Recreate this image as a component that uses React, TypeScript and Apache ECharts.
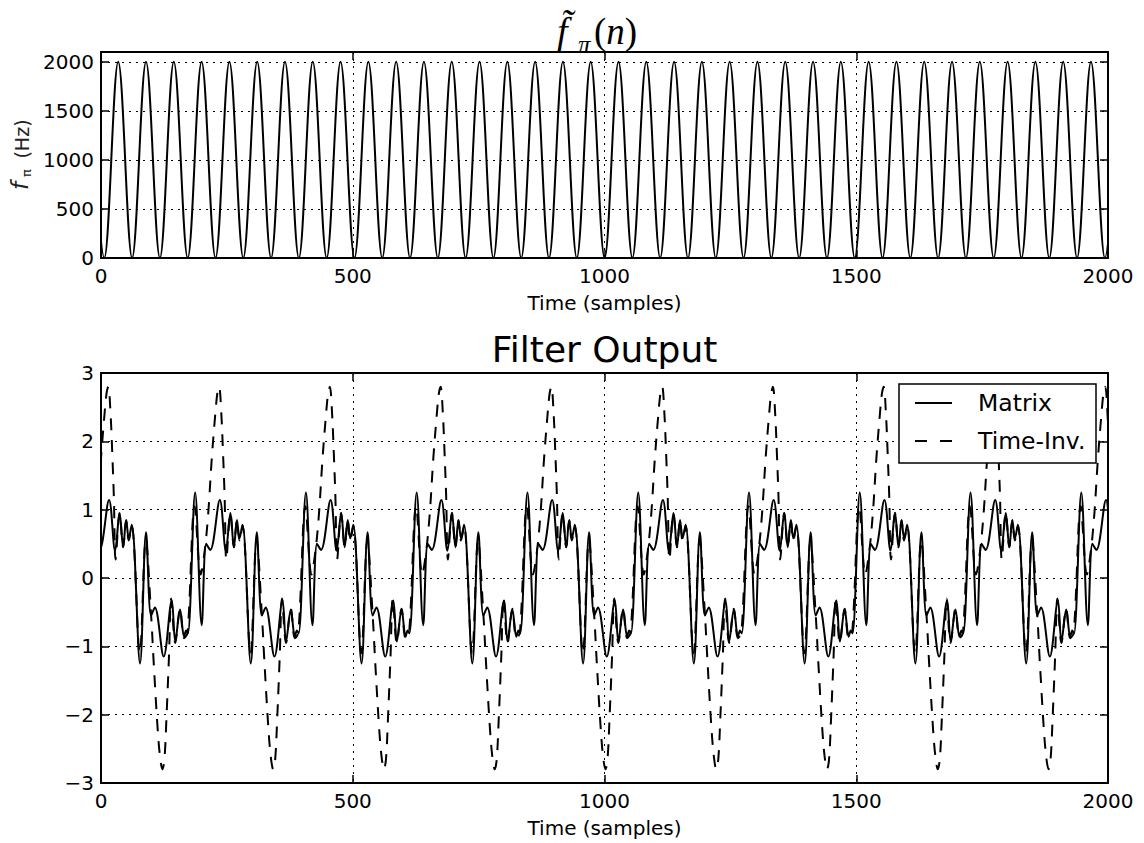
import React, { useEffect, useRef } from "react";
import * as echarts from "echarts";

// ---------- data ----------
const xTickValues = [0, 500, 1000, 1500, 2000];
const freqTickValues = [0, 500, 1000, 1500, 2000];
const outTickValues = [-3, -2, -1, 0, 1, 2, 3];

// top panel: sample positions of the maxima (2000 Hz) and minima (0 Hz)
const freqPeakN = [-21.0, 34.2, 89.4, 144.6, 199.8, 255.0, 310.2, 365.4, 420.6, 475.8, 531.0, 586.2, 641.4, 696.6, 751.8, 807.0, 862.2, 917.4, 972.6, 1027.8, 1083.0, 1138.2, 1193.4, 1248.6, 1303.8, 1359.0, 1414.2, 1469.4, 1524.6, 1579.8, 1635.0, 1690.2, 1745.4, 1800.6, 1855.8, 1911.0, 1966.2, 2021.4];
const freqTroughN = [6.6, 61.8, 117.0, 172.2, 227.4, 282.6, 337.8, 393.0, 448.2, 503.4, 558.6, 613.8, 669.0, 724.2, 779.4, 834.6, 889.8, 945.0, 1000.2, 1055.4, 1110.6, 1165.8, 1221.0, 1276.2, 1331.4, 1386.6, 1441.8, 1497.0, 1552.2, 1607.4, 1662.6, 1717.8, 1773.0, 1828.2, 1883.4, 1938.6, 1993.8];
const freqPeakHz = 2000;
const freqTroughHz = 0;

// bottom panel: the output repeats every 220 samples; one cycle
const cycleStartN = [-220, 0, 220, 440, 660, 880, 1100, 1320, 1540, 1760, 1980];
const matrixCycleN = [16, 28, 37, 44, 50, 55, 61, 77.5, 89.5, 99.5, 107, 124.5, 140.5, 147.5, 157, 165, 169, 172.5, 187, 200, 209, 217];
const matrixCycleV = [1.14, 0.4, 0.95, 0.45, 0.85, 0.58, 0.78, -1.25, 0.67, -0.55, -0.43, -1.15, -0.33, -0.93, -0.46, -0.86, -0.77, -0.81, 1.25, -0.69, 0.5, 0.41];
const timeInvCycleN = [0, 7, 11, 14.5, 19, 22.5, 25.5, 29, 37, 44, 50, 55, 61, 77, 89, 100, 104, 112, 117, 122, 126, 130, 135, 139.5, 147.5, 157, 165, 172, 186, 198, 206, 213];
const timeInvCycleV = [1.75, 2.4, 2.7, 2.8, 2.4, 1.8, 1.2, 0.27, 0.95, 0.45, 0.84, 0.55, 0.76, -1.1, 0.55, -0.6, -1.15, -2.15, -2.6, -2.8, -2.65, -2.05, -1.15, -0.3, -0.95, -0.45, -0.88, -0.8, 1.05, 0.05, 0.4, 0.95];

const seriesNames = ["Matrix", "Time-Inv."];

// ---------- build series data ----------
const freqData: number[][] = [
  ...freqPeakN.map((n) => [n, freqPeakHz]),
  ...freqTroughN.map((n) => [n, freqTroughHz]),
].sort((a, b) => a[0] - b[0]);

const tile = (ns: number[], vs: number[]) =>
  cycleStartN.flatMap((s) => ns.map((n, i) => [s + n, vs[i]]));

const matrixData = tile(matrixCycleN, matrixCycleV);
const timeInvData = tile(timeInvCycleN, timeInvCycleV);

const BLACK = "#000";
const SANS = "DejaVu Sans";
const SERIF = "Liberation Serif";

const tickFont = { fontFamily: SANS, fontSize: 20, color: BLACK };

const minus = (v: number) => (v < 0 ? "\u2212" + Math.abs(v) : String(v));

function frameAxisX(gridIndex: number, position: "bottom" | "top", main: boolean) {
  return {
    type: "value",
    gridIndex,
    position,
    min: xTickValues[0],
    max: xTickValues[xTickValues.length - 1],
    interval: xTickValues[1] - xTickValues[0],
    axisLine: { show: true, onZero: false, lineStyle: { color: BLACK, width: 2 } },
    axisTick: { show: true, inside: true, length: 8, lineStyle: { color: BLACK, width: 1.5 } },
    axisLabel: main
      ? { show: true, margin: 8, ...tickFont, formatter: (v: number) => String(v) }
      : { show: false },
    splitLine: main
      ? { show: true, lineStyle: { color: BLACK, width: 1, type: [2, 5] } }
      : { show: false },
    name: main ? "Time (samples)" : "",
    nameLocation: "middle",
    nameGap: 35,
    nameTextStyle: { fontFamily: SANS, fontSize: 20, color: BLACK },
  };
}

function frameAxisY(
  gridIndex: number,
  position: "left" | "right",
  main: boolean,
  ticks: number[],
  max: number
) {
  return {
    type: "value",
    gridIndex,
    position,
    min: ticks[0],
    max,
    interval: ticks[1] - ticks[0],
    axisLine: { show: true, onZero: false, lineStyle: { color: BLACK, width: 2 } },
    axisTick: { show: true, inside: true, length: 8, lineStyle: { color: BLACK, width: 1.5 } },
    axisLabel: main
      ? {
          show: true,
          margin: 7,
          ...tickFont,
          showMaxLabel: max === ticks[ticks.length - 1],
          formatter: (v: number) => (ticks.indexOf(v) >= 0 ? minus(v) : ""),
        }
      : { show: false },
    splitLine: main
      ? { show: true, lineStyle: { color: BLACK, width: 1, type: [2, 5] } }
      : { show: false },
  };
}

function rotatedText(text: string, x: number, y: number, size: number, italic: boolean) {
  return {
    type: "text",
    x,
    y,
    rotation: Math.PI / 2,
    z: 100,
    style: {
      text,
      fontFamily: SANS,
      fontSize: size,
      fontStyle: italic ? "italic" : "normal",
      fill: "#222",
      textAlign: "center",
      textVerticalAlign: "middle",
    },
  };
}

export default function App() {
  const ref = useRef<HTMLDivElement>(null);

  useEffect(() => {
    if (!ref.current) return;
    const chart = echarts.init(ref.current, undefined, { renderer: "svg" });

    const option: any = {
      animation: false,
      backgroundColor: "#fff",
      grid: [
        { left: 101, top: 52, width: 1007, height: 206, show: false },
        { left: 101, top: 373, width: 1007, height: 410, show: false },
      ],
      xAxis: [
        frameAxisX(0, "bottom", true),
        frameAxisX(0, "top", false),
        frameAxisX(1, "bottom", true),
        frameAxisX(1, "top", false),
      ],
      yAxis: [
        frameAxisY(0, "left", true, freqTickValues, 2100),
        frameAxisY(0, "right", false, freqTickValues, 2100),
        frameAxisY(1, "left", true, outTickValues, 3),
        frameAxisY(1, "right", false, outTickValues, 3),
      ],
      series: [
        {
          type: "line",
          xAxisIndex: 0,
          yAxisIndex: 0,
          data: freqData,
          smooth: 0.364,
          symbol: "none",
          showSymbol: false,
          lineStyle: { color: BLACK, width: 2 },
          z: 3,
        },
        {
          name: seriesNames[0],
          type: "line",
          xAxisIndex: 2,
          yAxisIndex: 2,
          data: matrixData,
          smooth: 0.35,
          symbol: "none",
          showSymbol: false,
          lineStyle: { color: BLACK, width: 2 },
          z: 3,
        },
        {
          name: seriesNames[1],
          type: "line",
          xAxisIndex: 2,
          yAxisIndex: 2,
          data: timeInvData,
          smooth: 0.35,
          symbol: "none",
          showSymbol: false,
          lineStyle: { color: BLACK, width: 2, type: [12, 10] },
          z: 4,
        },
      ],
      graphic: [
        // top y label  f_pi (Hz), rotated to read upward
        rotatedText("f", 20, 186, 23, true),
        rotatedText("\u03c0", 26, 173, 13, false),
        rotatedText("(Hz)", 22, 139, 19, false),
        // top title  f~_pi (n)
        {
          type: "text",
          x: 557,
          y: 31,
          z: 100,
          style: {
            text: "f\u0303",
            fontFamily: SERIF,
            fontStyle: "italic",
            fontSize: 38,
            fill: BLACK,
            textVerticalAlign: "middle",
          },
        },
        {
          type: "text",
          x: 578,
          y: 44,
          z: 100,
          style: {
            text: "\u03c0",
            fontFamily: SERIF,
            fontStyle: "italic",
            fontSize: 25,
            fill: BLACK,
            textVerticalAlign: "middle",
          },
        },
        {
          type: "text",
          x: 594,
          y: 31,
          z: 100,
          style: {
            text: "{p|(}{n|n}{p|)}",
            fill: BLACK,
            textVerticalAlign: "middle",
            rich: {
              p: { fontFamily: SERIF, fontSize: 37, fill: BLACK },
              n: { fontFamily: SERIF, fontSize: 37, fontStyle: "italic", fill: BLACK },
            },
          },
        },
        // bottom title
        {
          type: "text",
          x: 604.5,
          y: 349,
          z: 100,
          style: {
            text: "Filter Output",
            fontFamily: SANS,
            fontSize: 36,
            fill: BLACK,
            textAlign: "center",
            textVerticalAlign: "middle",
          },
        },
        // legend
        {
          type: "rect",
          z: 100,
          shape: { x: 899, y: 384, width: 197, height: 79 },
          style: { fill: "#fff", stroke: BLACK, lineWidth: 1.5 },
        },
        {
          type: "line",
          z: 101,
          shape: { x1: 915, y1: 403, x2: 952, y2: 403 },
          style: { stroke: BLACK, lineWidth: 2 },
        },
        {
          type: "line",
          z: 101,
          shape: { x1: 915, y1: 441, x2: 952, y2: 441 },
          style: { stroke: BLACK, lineWidth: 2, lineDash: [12, 13] },
        },
        {
          type: "text",
          x: 978,
          y: 403,
          z: 101,
          style: {
            text: seriesNames[0],
            fontFamily: SANS,
            fontSize: 23.5,
            fill: BLACK,
            textVerticalAlign: "middle",
          },
        },
        {
          type: "text",
          x: 978,
          y: 441,
          z: 101,
          style: {
            text: seriesNames[1],
            fontFamily: SANS,
            fontSize: 23.5,
            fill: BLACK,
            textVerticalAlign: "middle",
          },
        },
      ],
    };

    chart.setOption(option);
    return () => chart.dispose();
  }, []);

  return (
    <div
      ref={ref}
      style={{ position: "absolute", left: 0, top: 0, width: 1144, height: 843, background: "#fff" }}
    />
  );
}
